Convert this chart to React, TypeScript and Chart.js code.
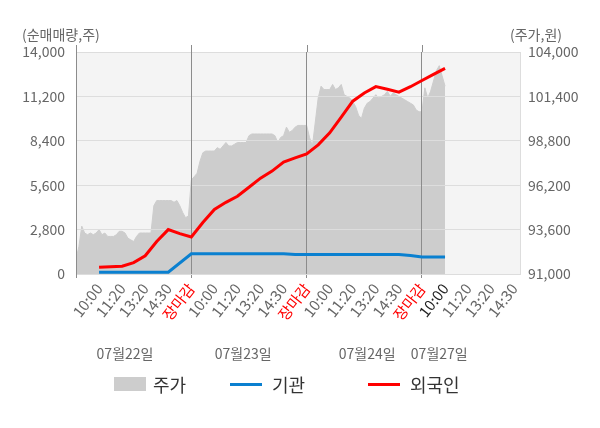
import { useEffect, useRef } from 'react';
import { Chart, registerables } from 'chart.js';

Chart.register(...registerables);

const FONT = "'Noto Sans CJK KR', 'Noto Sans', sans-serif";
Chart.defaults.font.family = FONT;

// x axis: 40 slots per trading day, a labelled tick every 8 slots
const SLOTS_PER_DAY = 40;
const TICK_STEP = 8;
const LAST_SLOT = 154;
const timeTicks = ['10:00', '11:20', '13:20', '14:30'];
const closeLabel = '장마감';
const dateLabels = ['07월22일', '07월23일', '07월24일', '07월27일'];
const dateSlots = [17, 58, 101, 126];
const seriesNames = ['주가', '기관', '외국인'];

// 주가 (원), one value per slot
const price = [
  91900, 92600, 93800, 93400, 93300, 93400, 93300, 93400, 93600, 93300,
  93400, 93200, 93200, 93200, 93300, 93500, 93500, 93400, 93100, 93000,
  92900, 93200, 93400, 93400, 93400, 93400, 93400, 95000, 95300, 95300,
  95300, 95300, 95300, 95300, 95200, 95300, 95000, 94600, 94300, 94400,
  96500, 96700, 96900, 97600, 98100, 98200, 98200, 98200, 98200, 98400,
  98300, 98500, 98700, 98500, 98500, 98600, 98700, 98700, 98700, 98700,
  99100, 99200, 99200, 99200, 99200, 99200, 99200, 99200, 99200, 99100,
  98700, 99000, 99100, 99600, 99300, 99400, 99600, 99700, 99700, 99700,
  99700, 99000, 98500, 99900, 101300, 102000, 101800, 101800, 101800, 102100,
  101800, 101900, 102100, 101500, 101400, 101300, 101100, 100800, 100300, 100100,
  100700, 101000, 101100, 101300, 101500, 101300, 101400, 101500, 101700, 101400,
  101600, 101500, 101400, 101300, 101200, 101100, 101000, 100900, 100600, 100500,
  100500, 101900, 101300, 101700, 102300, 102900, 103200, 102600, 102000,
];

// 외국인 누적 순매매량 (주)
const foreignSlots = [8, 12, 16, 20, 24, 28, 32, 36, 40, 44, 48, 52, 56, 60, 64, 68, 72, 76, 80, 84, 88, 92, 96, 100, 104, 108, 112, 116, 120, 124, 128];
const foreignValues = [430, 460, 490, 720, 1150, 2050, 2800, 2550, 2330, 3250, 4070, 4520, 4900, 5470, 6045, 6490, 7060, 7320, 7570, 8145, 8900, 9895, 10900, 11420, 11820, 11650, 11470, 11810, 12200, 12590, 12970];

// 기관 누적 순매매량 (주)
const instSlots = [8, 16, 24, 32, 40, 48, 56, 64, 72, 76, 80, 88, 96, 104, 112, 116, 120, 124, 128];
const instValues = [110, 110, 110, 110, 1270, 1270, 1270, 1270, 1270, 1230, 1230, 1230, 1230, 1230, 1230, 1170, 1070, 1070, 1070];

const PRICE_FILL = '#cdcdcd';
const INST_COLOR = '#0a80d0';
const FOREIGN_COLOR = '#ff0000';
const dayBreaks = [0, 40, 80, 120];

const frame = {
  id: 'frame',
  beforeDraw(chart: Chart) {
    const { ctx, chartArea: a } = chart;
    ctx.save();
    ctx.fillStyle = '#f4f4f4';
    ctx.fillRect(a.left, a.top, a.right - a.left, a.bottom - a.top);
    ctx.restore();
  },
  afterDatasetDraw(chart: Chart, args: { index: number }) {
    if (args.index !== 0) return;
    const { ctx, chartArea: a, scales } = chart as any;
    scales.y.drawGrid(a);
    scales.x.drawGrid(a);
    ctx.save();
    ctx.strokeStyle = '#8c8c8c';
    ctx.lineWidth = 1;
    for (const v of dayBreaks) {
      const x = Math.round(scales.x.getPixelForValue(v)) + 0.5;
      ctx.beginPath();
      ctx.moveTo(x, a.top - 7);
      ctx.lineTo(x, a.top);
      ctx.stroke();
    }
    ctx.restore();
  },
};

function timeLabel(v: number) {
  if (v === 0) return '';
  const s = v % SLOTS_PER_DAY;
  if (s === 0) return closeLabel;
  return timeTicks[s / TICK_STEP - 1];
}

export default function App() {
  const canvasRef = useRef<HTMLCanvasElement>(null);
  const chartRef = useRef<Chart | null>(null);

  useEffect(() => {
    if (!canvasRef.current) return;
    if (chartRef.current) chartRef.current.destroy();

    chartRef.current = new Chart(canvasRef.current, {
      type: 'line',
      data: {
        datasets: [
          {
            label: seriesNames[0],
            data: price.map((y, x) => ({ x, y })),
            yAxisID: 'y1',
            backgroundColor: PRICE_FILL,
            borderColor: PRICE_FILL,
            borderWidth: 1,
            fill: 'start',
            pointRadius: 0,
            order: 2,
          },
          {
            label: seriesNames[1],
            data: instSlots.map((x, i) => ({ x, y: instValues[i] })),
            yAxisID: 'y',
            borderColor: INST_COLOR,
            borderWidth: 3,
            pointRadius: 0,
            fill: false,
            order: 1,
          },
          {
            label: seriesNames[2],
            data: foreignSlots.map((x, i) => ({ x, y: foreignValues[i] })),
            yAxisID: 'y',
            borderColor: FOREIGN_COLOR,
            borderWidth: 3,
            pointRadius: 0,
            fill: false,
            order: 1,
          },
        ],
      },
      options: {
        animation: false,
        responsive: true,
        maintainAspectRatio: false,
        layout: { padding: { top: 52, right: 22, bottom: 64, left: 0 } },
        plugins: { legend: { display: false }, tooltip: { enabled: false } },
        scales: {
          x: {
            type: 'linear',
            min: 0,
            max: LAST_SLOT,
            afterFit: (s: any) => { s.height = 66; },
            grid: {
              color: (c: any) => (c.tick && c.tick.value % SLOTS_PER_DAY === 0 ? '#8c8c8c' : 'rgba(0,0,0,0)'),
              tickLength: 4,
            },
            border: { color: '#aaaaaa' },
            ticks: {
              stepSize: TICK_STEP,
              includeBounds: false,
              autoSkip: false,
              maxRotation: 52,
              minRotation: 52,
              padding: 2,
              font: { size: 15 },
              color: (c: any) => {
                const v = c.tick.value;
                if (v % SLOTS_PER_DAY === 0) return '#ff0000';
                if (v === 128) return '#222222';
                return '#666666';
              },
              callback: (v: any) => timeLabel(Number(v)),
            },
          },
          x2: {
            type: 'linear',
            position: 'bottom',
            weight: 1,
            min: 0,
            max: LAST_SLOT,
            afterFit: (s: any) => { s.height = 24; },
            afterBuildTicks: (s: any) => { s.ticks = dateSlots.map((value) => ({ value })); },
            grid: { display: false, drawTicks: false },
            border: { display: false },
            ticks: {
              autoSkip: false,
              maxRotation: 0,
              padding: 5,
              font: { size: 14 },
              color: '#666666',
              callback: (v: any) => dateLabels[dateSlots.indexOf(Number(v))],
            },
          },
          y: {
            position: 'left',
            min: 0,
            max: 14000,
            afterFit: (s: any) => { s.width = 76; },
            grid: { color: '#dddddd', drawTicks: false },
            border: { color: '#8c8c8c' },
            ticks: { stepSize: 2800, padding: 11, font: { size: 14 }, color: '#666666' },
          },
          y1: {
            position: 'right',
            min: 91000,
            max: 104000,
            afterFit: (s: any) => { s.width = 58; },
            grid: { display: false, drawTicks: false },
            border: { color: '#dddddd' },
            ticks: { stepSize: 2600, padding: 8, font: { size: 14 }, color: '#666666' },
          },
        },
      },
      plugins: [frame],
    } as any);

    return () => { chartRef.current?.destroy(); chartRef.current = null; };
  }, []);

  const text = { position: 'absolute' as const, fontSize: 14, lineHeight: '16px', color: '#666', whiteSpace: 'nowrap' as const };
  const legendText = { position: 'absolute' as const, top: 374, fontSize: 18, lineHeight: '20px', color: '#333', whiteSpace: 'nowrap' as const };

  return (
    <div style={{ position: 'fixed', left: 0, top: 0, width: 600, height: 428, background: '#fff', fontFamily: FONT }}>
      <div style={{ position: 'absolute', left: 0, top: 0, width: 600, height: 428 }}>
        <canvas ref={canvasRef} />
      </div>
      <div style={{ ...text, left: 22, top: 26 }}>(순매매량,주)</div>
      <div style={{ ...text, left: 510, top: 26 }}>(주가,원)</div>
      <div style={{ position: 'absolute', left: 114, top: 377, width: 32, height: 14, background: PRICE_FILL }} />
      <div style={{ ...legendText, left: 153 }}>{seriesNames[0]}</div>
      <div style={{ position: 'absolute', left: 230, top: 383, width: 32, height: 3, background: INST_COLOR }} />
      <div style={{ ...legendText, left: 272 }}>{seriesNames[1]}</div>
      <div style={{ position: 'absolute', left: 368, top: 383, width: 32, height: 3, background: FOREIGN_COLOR }} />
      <div style={{ ...legendText, left: 410 }}>{seriesNames[2]}</div>
    </div>
  );
}
